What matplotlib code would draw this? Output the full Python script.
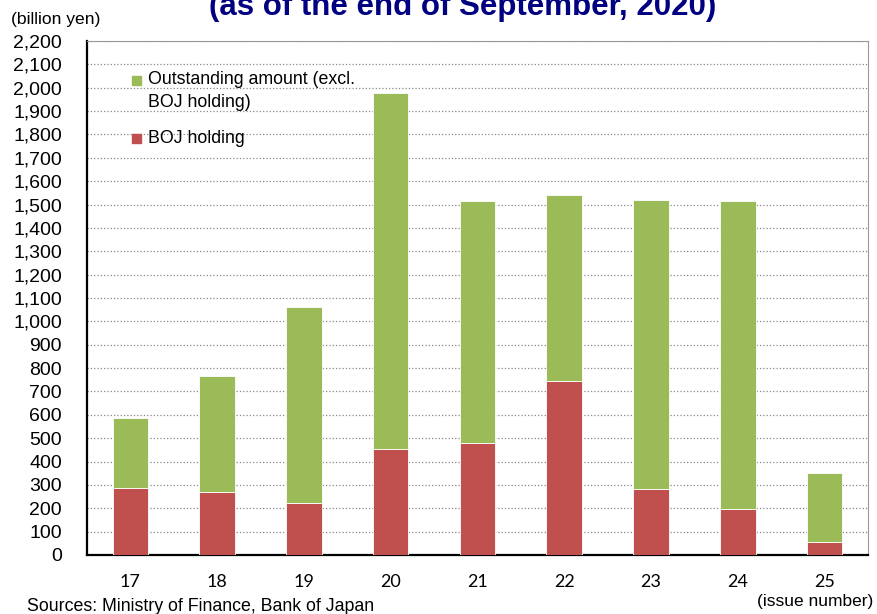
import matplotlib.pyplot as plt
from matplotlib.patches import Rectangle

plt.rcParams['font.family'] = ['Liberation Sans', 'DejaVu Sans']

issues = ['17', '18', '19', '20', '21', '22', '23', '24', '25']
boj_holding = [287, 270, 223, 454, 479, 745, 283, 197, 56]
total_amount = [586, 766, 1062, 1978, 1515, 1541, 1520, 1515, 351]
outstanding_excl = [t - b for t, b in zip(total_amount, boj_holding)]

green = '#9BBB59'
red = '#C0504D'

fig = plt.figure(figsize=(8.77, 6.14), dpi=100)
ax = fig.add_axes([0.0992, 0.0961, 0.8905, 0.8371])

x = range(len(issues))
ax.bar(x, boj_holding, width=0.41, color=red, edgecolor='white', linewidth=0.6, zorder=3)
ax.bar(x, outstanding_excl, bottom=boj_holding, width=0.41, color=green,
       edgecolor='white', linewidth=0.6, zorder=3)

ax.set_xlim(-0.5, len(issues) - 0.5)
ax.set_ylim(0, 2200)
ax.set_yticks(range(0, 2201, 100))
ax.set_yticklabels([f'{v:,}' for v in range(0, 2201, 100)])
ax.set_xticks(list(x))
ax.set_xticklabels(issues, family=['Lato', 'DejaVu Sans'])
ax.tick_params(axis='y', length=0, pad=18, labelsize=14)
ax.tick_params(axis='x', length=0, pad=14, labelsize=13)
ax.yaxis.grid(True, linestyle=':', color='#888888', linewidth=0.9, zorder=0)
ax.set_axisbelow(True)

for side in ['top', 'right']:
    ax.spines[side].set_color('#999999')
    ax.spines[side].set_linewidth(0.8)
for side in ['left', 'bottom']:
    ax.spines[side].set_color('black')
    ax.spines[side].set_linewidth(1.6)

# legend drawn by hand so the marker sits on the first text line
sq_w, sq_h = 9 / 781, 9 / 514
ax.add_patch(Rectangle((0.064 - sq_w / 2, 0.924 - sq_h / 2), sq_w, sq_h,
                       transform=ax.transAxes, color=green, clip_on=False))
ax.add_patch(Rectangle((0.064 - sq_w / 2, 0.811 - sq_h / 2), sq_w, sq_h,
                       transform=ax.transAxes, color=red, clip_on=False))
ax.text(0.078, 0.903, 'Outstanding amount (excl.\nBOJ holding)', transform=ax.transAxes,
        ha='left', va='center', fontsize=12.8, linespacing=1.45)
ax.text(0.078, 0.811, 'BOJ holding', transform=ax.transAxes,
        ha='left', va='center', fontsize=12.8)

fig.text(0.527, 0.9756, '(as of the end of September, 2020)', ha='center', va='baseline',
         fontsize=22.5, fontweight='bold', color='#000080')
fig.text(0.012, 0.969, '(billion yen)', ha='left', va='center', fontsize=12.6)
fig.text(0.996, 0.021, '(issue number)', ha='right', va='center', fontsize=12.5)
fig.text(0.031, 0.013, 'Sources: Ministry of Finance, Bank of Japan', ha='left',
         va='center', fontsize=12.8)

fig.savefig('out.png', dpi=100)
